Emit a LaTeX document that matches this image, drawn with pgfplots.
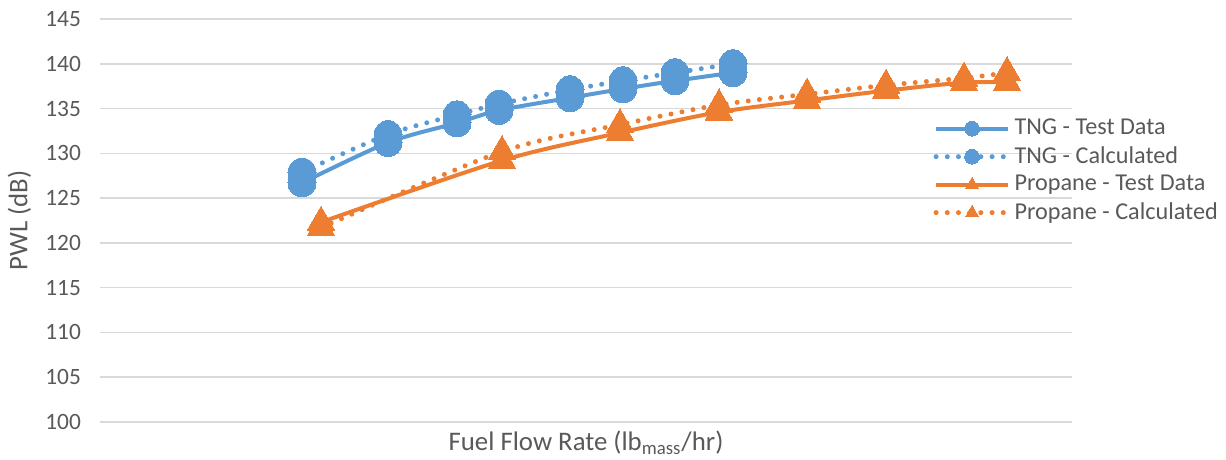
\documentclass[border=0pt]{standalone}
\usepackage{pgfplots}
\pgfplotsset{compat=1.18}
\usepackage{fontspec}
\setmainfont{Carlito}
\definecolor{cblue}{HTML}{5B9BD5}
\definecolor{corange}{HTML}{ED7D31}
\definecolor{cgrid}{HTML}{D9D9D9}
\definecolor{ctext}{HTML}{595959}
\begin{document}
\begin{tikzpicture}
\useasboundingbox (-50pt,-19pt) rectangle (563pt,211pt);
\begin{axis}[
  at={(0,0)}, anchor=south west,
  scale only axis, width=486pt, height=201.5pt,
  xmin=100, xmax=1072, ymin=100, ymax=145,
  ytick distance=5, xtick=\empty,
  axis line style={draw=none},
  major tick length=0pt,
  ymajorgrids, grid style={cgrid, line width=0.75pt},
  /pgf/number format/assume math mode=true,
  tick label style={font=\fontsize{11.7}{14}\selectfont, text=ctext},
  yticklabel style={xshift=-6pt},
  label style={font=\fontsize{13.4}{16}\selectfont, text=ctext},
  ylabel={PWL (dB)},
  ylabel style={at={(axis description cs:-0.083,0.5)}, anchor=center},
  xlabel={Fuel Flow Rate (lb\textsubscript{mass}/hr)},
  xlabel style={at={(axis description cs:0.5,-0.052)}, anchor=center},
  legend style={at={(rel axis cs:0.851,0.772)}, anchor=north west, draw=none, fill=none,
    font=\fontsize{12.1}{14}\selectfont, text=ctext, row sep=0.4pt},
  legend cell align=left,
  legend image code/.code={\draw[mark repeat=2, mark phase=2, mark size=3.7pt] plot coordinates {(0pt,0pt) (18pt,0pt) (36pt,0pt)};},
]
\addplot[cblue, line width=2pt, smooth, mark=*, mark size=7pt, mark options={solid, fill=cblue, draw=cblue, line width=0pt}]
coordinates {(302,126.7)(388,131.2)(457,133.4)(499,134.8)(570,136.2)(623,137.2)(675,138.1)(733,139.0)};
\addlegendentry{TNG - Test Data}
\addplot[cblue, line width=2.5pt, line cap=round, dash pattern=on 0pt off 5.6pt, smooth, mark=*, mark size=7pt, mark options={solid, fill=cblue, draw=cblue, line width=0pt}]
coordinates {(302,127.9)(388,132.1)(457,134.3)(499,135.5)(570,137.1)(623,138.1)(675,139.0)(733,140.0)};
\addlegendentry{TNG - Calculated}
\addplot[corange, line width=2pt, smooth, mark=triangle*, mark size=8pt, mark options={solid, fill=corange, draw=corange, line width=0pt}]
coordinates {(321,122.3)(502,129.2)(620,132.3)(719,134.6)(807,135.9)(886,137.0)(964,137.9)(1007,137.9)};
\addlegendentry{Propane - Test Data}
\addplot[corange, line width=2.5pt, line cap=round, dash pattern=on 0pt off 5.6pt, smooth, mark=triangle*, mark size=8pt, mark options={solid, fill=corange, draw=corange, line width=0pt}]
coordinates {(321,121.7)(502,130.2)(620,133.2)(719,135.4)(807,136.6)(886,137.6)(964,138.4)(1007,139.0)};
\addlegendentry{Propane - Calculated}
\end{axis}
\end{tikzpicture}
\end{document}
